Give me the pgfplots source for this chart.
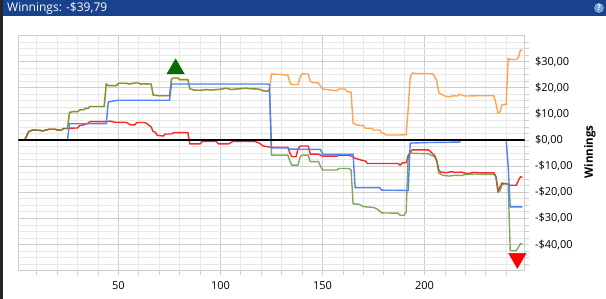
\documentclass[border=0pt]{standalone}
\usepackage{fontspec}
\setmainfont{Open Sans}
\usepackage{pgfplots}
\usepackage{pgfplotstable}
\pgfplotsset{compat=1.18}
\definecolor{hdr}{RGB}{24,66,140}
\definecolor{cblue}{RGB}{80,130,245}
\definecolor{cred}{RGB}{250,40,40}
\definecolor{corange}{RGB}{255,165,80}
\definecolor{cgreen}{RGB}{95,145,45}
\definecolor{gridmaj}{RGB}{205,205,205}
\definecolor{gridmin}{RGB}{232,232,232}
\definecolor{darkgreen}{RGB}{0,110,0}
\definecolor{qicon}{RGB}{110,160,210}

\pgfplotstableread{
x y
1 0
4 0
5 1.5
6 3.2
8 3.8
11 3.7
13 3.5
16 4.1
19 4.1
20 3.8
22 3.7
23 4.4
25 4.4
26 10.5
28 10.9
30 10.8
31 11.5
33 11.6
34 12.2
35 12
36 12.8
43 12.8
44 21.4
45 20.8
49 20.8
50 21.7
54 21.7
55 21.4
58 21.8
60 21.8
61 21.3
62 21.5
66 21.4
67 17.2
70 16.9
75 16.9
76 23.3
77 23.7
79 23.7
80 23.1
84 23.1
85 19.6
87 19.1
90 19.0
93 19.3
95 19.1
100 19.4
103 19.8
105 19.3
108 19.5
112 19.8
115 19.6
118 19.5
120 19.2
121 18.8
123 18.6
124 19.3
125 -5.8
133 -5.8
134 -8
135 -9.6
138 -9.6
139 -6.5
140 -5.8
143 -5.8
144 -8.3
148 -8.3
149 -10
150 -11.5
157 -11.5
158 -10.9
163 -10.9
164 -11.5
165 -24.4
168 -24.6
170 -25.5
175 -25.8
177 -26.5
179 -27.9
187 -28
188 -28.8
190 -28.8
191 -27.5
192 -6
193 -5
195 -5.1
202 -5.3
203 -5.8
205 -6.4
206 -8
207 -12.7
209 -13.5
212 -13.8
215 -13.5
218 -13.6
220 -13.2
225 -13.0
228 -13.2
234 -13.2
235 -14
236 -19.9
237 -19.5
238 -17
240 -16.7
241 -17
242 -42.3
245 -42.3
246 -41
247 -39.7
248 -39.8
}\greentab

\pgfplotstableread{
x y
1 0
4 0
5 1.5
6 3.2
8 3.8
11 3.7
13 3.5
16 4.1
19 4.1
20 3.8
22 3.7
23 4.4
25 4.4
26 10.5
28 10.9
30 10.8
31 11.5
33 11.6
34 12.2
35 12
36 12.8
43 12.8
44 21.4
45 20.8
49 20.8
50 21.7
54 21.7
55 21.4
58 21.8
60 21.8
61 21.3
62 21.5
66 21.4
67 17.2
70 16.9
75 16.9
76 23.3
77 23.7
79 23.7
80 23.1
84 23.1
85 19.6
87 19.1
90 19.0
93 19.3
95 19.1
100 19.4
103 19.8
105 19.3
108 19.5
112 19.8
115 19.6
118 19.5
120 19.2
121 18.8
123 18.6
124 19.3
125 25.3
130 25
133 24.8
134 22
135 21.2
138 21.2
139 24
140 25.3
143 25.2
144 22.5
145 22
148 21.8
150 19.5
153 19.2
157 18.8
158 19.5
161 19.5
162 18.5
164 18.3
165 6.4
167 5.7
170 5.5
171 4.5
174 4.5
175 3.8
178 3.8
179 2.7
180 2.6
181 1.9
187 1.9
191 2.0
192 12
193 24
194 25.6
196 25.4
204 25.3
205 24.2
206 22.6
207 18
208 17.6
210 16.8
212 16.5
214 16.9
216 16.8
217 17.5
218 17.2
220 16.8
225 16.9
229 16.9
234 16.9
235 14
236 10.3
237 10.8
238 13.5
240 13.5
241 31.2
242 30.8
245 30.8
246 31.5
247 34.4
248 34.2
}\orangetab

\pgfplotstableread{
x y
1 0
4 0
5 1.5
6 3.2
8 3.8
11 3.7
13 3.5
16 4.1
19 4.1
20 3.8
22 3.7
23 4.4
25 4.4
26 4.5
30 4.6
31 5.5
33 5.8
35 6.4
36 7.0
44 7.0
46 7.2
48 6.8
54 6.7
55 6.2
56 5.8
58 5.8
59 6.7
63 6.7
64 6.2
66 5
67 3.2
68 3.0
69 1.8
72 1.5
73 2.3
76 2.3
77 2.8
84 2.8
85 -1.5
90 -1.5
91 -0.6
98 -0.6
99 -1.5
104 -1.5
106 -0.6
117 -0.6
119 -1.2
121 -2.3
123 -2.6
125 -2.8
133 -2.8
134 -5
135 -6.4
137 -6.4
138 -3.5
139 -2.3
143 -2.3
144 -5.4
148 -5.4
150 -6.2
157 -6.2
158 -5.8
163 -5.8
165 -6.5
166 -7.0
169 -7.7
171 -8
172 -9
187 -9
188 -9.6
189 -8.8
191 -8.7
192 -6
193 -4.5
194 -3.8
202 -3.8
203 -4.5
205 -6
206 -8
207 -11.5
208 -12.3
211 -12.5
213 -12.1
215 -12.4
218 -12.3
221 -12.9
224 -12.4
228 -12.6
234 -12.6
235 -14
236 -19.5
237 -18
238 -16.5
240 -16.7
241 -16.9
242 -17.3
245 -17.3
246 -15.5
247 -14.1
248 -14.3
}\redtab

\pgfplotstableread{
x y
1 0
25 0
26 6.2
44 6.2
45 14.5
48 15
50 15.2
75 15.2
76 21.4
123 21.4
124 21.2
125 -3.0
133 -3.0
134 -3.5
149 -3.6
150 -5.5
165 -5.5
166 -18.2
178 -18.2
179 -19.2
192 -19.3
193 -1.2
200 -1
217 -0.8
218 0
240 0
241 -10
242 -25.6
248 -25.6
}\bluetab

\begin{document}
\begin{tikzpicture}
\path[use as bounding box] (0pt,0pt) rectangle (606pt,-299pt);
\fill[white] (0pt,0pt) rectangle (606pt,-299pt);
\fill[hdr] (0pt,0pt) rectangle (606pt,-16pt);
\fill[black!85] (0pt,0pt) rectangle (3pt,-299pt);
\node[anchor=west, text=white, font=\fontsize{12}{14}\selectfont, inner sep=0pt] at (7pt,-8pt) {Winnings: -\$39,79};
\fill[qicon] (599pt,-8pt) circle (5pt);
\node[text=white, font=\fontsize{8}{9}\bfseries\selectfont, inner sep=0pt] at (599pt,-8pt) {?};
\begin{axis}[
  at={(18.5pt,-270.7pt)}, anchor=south west,
  scale only axis, width=506pt, height=235.3pt,
  xmin=1, xmax=249, ymin=-50, ymax=40,
  axis line style={draw=gridmaj},
  xtick={50,100,150,200}, xticklabels={50,100,150,200},
  minor xtick={10,20,...,240},
  ytick={-40,-30,...,30},
  yticklabels={{-\$40,00},{-\$30,00},{-\$20,00},{-\$10,00},{\$0,00},{\$10,00},{\$20,00},{\$30,00}},
  minor ytick={-47.5,-45,...,37.5},
  grid=both,
  major grid style={draw=gridmaj, line width=0.8pt},
  minor grid style={draw=gridmin, line width=0.8pt},
  xtick pos=bottom, ytick pos=right,
  yticklabel pos=right,
  tick align=outside,
  major tick length=4pt, minor tick length=4pt,
  tick style={draw=gridmaj, line width=0.8pt},
  ticklabel style={font=\fontsize{11}{13}\selectfont},
  yticklabel style={anchor=west, xshift=3pt},
  xticklabel style={yshift=-3pt},
]
\addplot[corange, line width=1.4pt] table[x=x,y=y] {\orangetab};
\addplot[cred, line width=1.4pt] table[x=x,y=y] {\redtab};
\addplot[cgreen, line width=1.4pt, opacity=0.78] table[x=x,y=y] {\greentab};
\addplot[cblue, line width=1.4pt] table[x=x,y=y] {\bluetab};
\addplot[black, line width=1.8pt] coordinates {(1,0) (249,0)};
\addplot[only marks, mark=triangle*, mark size=10pt, color=darkgreen] coordinates {(78,27.2)};
\addplot[only marks, mark=triangle*, mark size=10pt, color=red, every mark/.append style={rotate=180}] coordinates {(245.5,-45.3)};
\end{axis}
\node[rotate=90, font=\fontsize{11.5}{13}\bfseries\selectfont] at (590pt,-152pt) {Winnings};
\end{tikzpicture}
\end{document}
